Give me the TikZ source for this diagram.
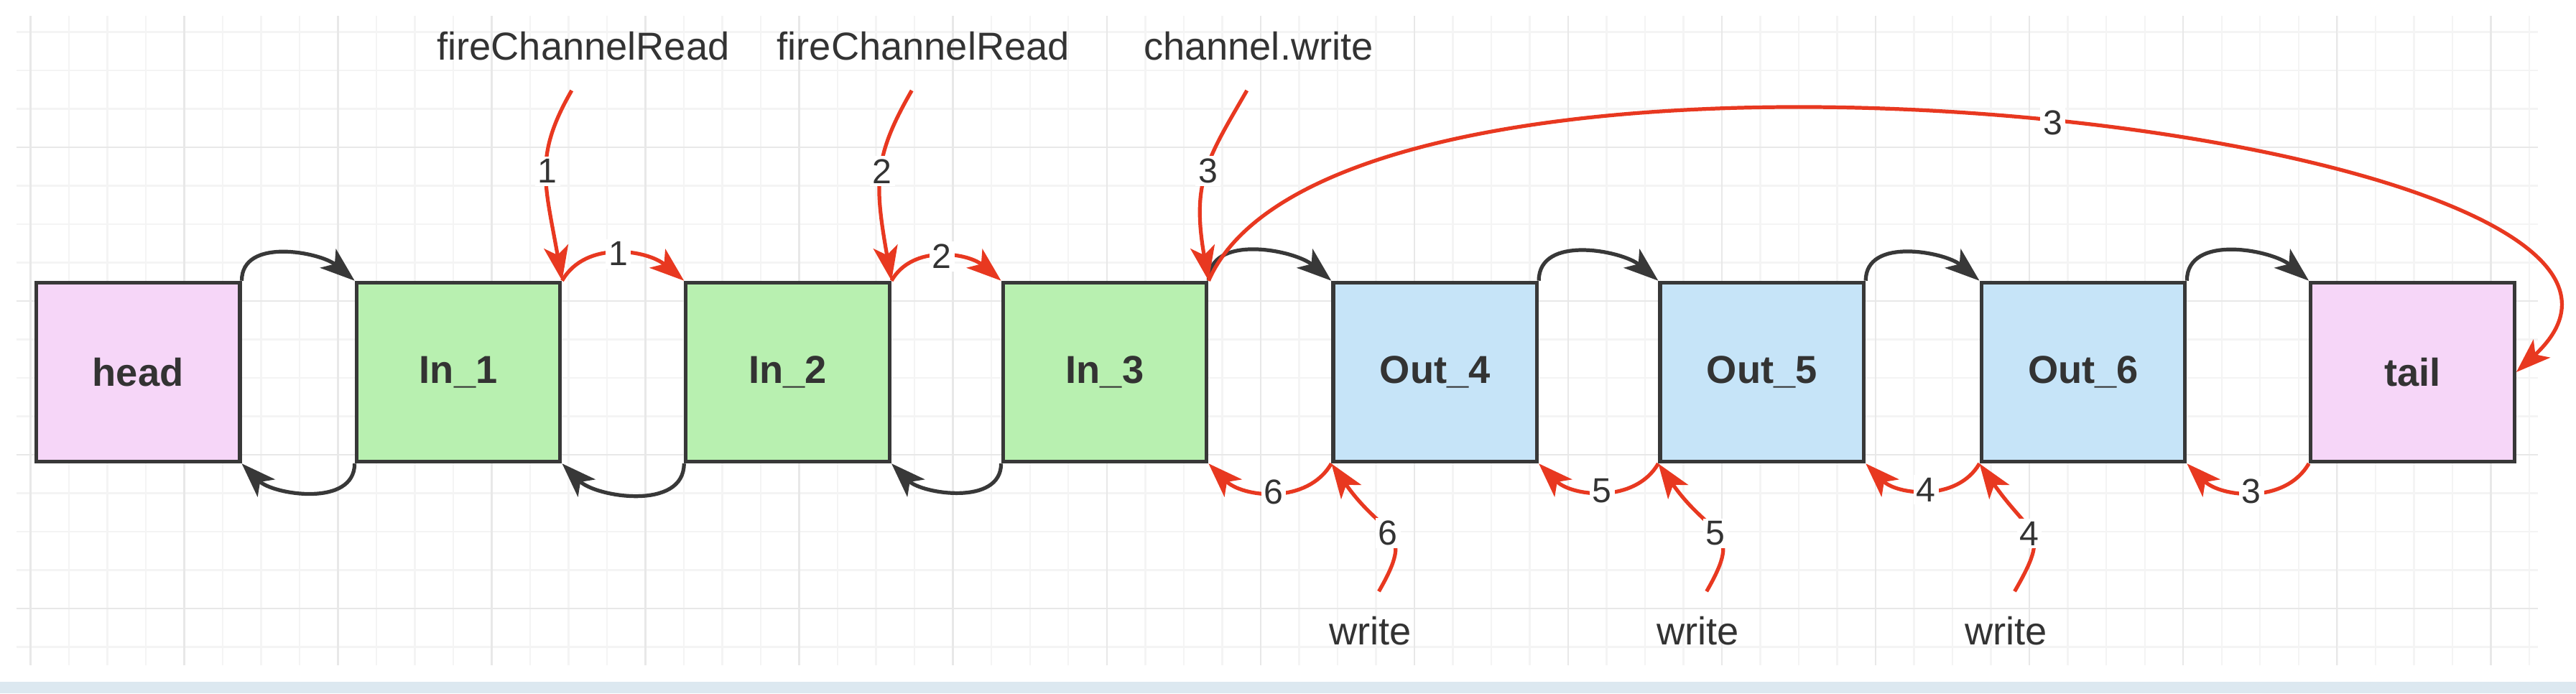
\documentclass[tikz,border=0pt]{standalone}
\usepackage{fontspec}
\setmainfont{Liberation Sans}
\usetikzlibrary{arrows.meta}
\definecolor{headpink}{RGB}{246,214,248}
\definecolor{ingreen}{RGB}{184,240,176}
\definecolor{outblue}{RGB}{198,228,248}
\definecolor{flowred}{RGB}{232,56,32}
\definecolor{linkgray}{RGB}{56,56,56}
\definecolor{labelgray}{RGB}{51,51,51}
\definecolor{framebar}{RGB}{220,232,240}

\begin{document}
\begin{tikzpicture}[font=\fontsize{13.5}{16}\selectfont, text=labelgray]
\useasboundingbox (0,0) rectangle (31.36,8.44);
\fill[white] (0,0) rectangle (31.36,8.44);
\fill[framebar] (0,0) rectangle (31.36,0.14);
\draw[gray!9, line width=0.6pt, step=0.468, shift={(0.37,0.096)}] (-0.17,0.25) grid (30.53,8.15);
\draw[gray!18, line width=0.6pt, step=1.872, shift={(0.37,1.032)}] (-0.17,-0.686) grid (30.53,7.214);
\tikzset{node/.style ={draw=linkgray, line width=1.3pt, minimum width=2.48cm, minimum height=2.18cm, inner sep=0pt, font=\fontsize{13.5}{16}\selectfont\bfseries}}
\node[node, fill=headpink] (head) at (1.68,3.91) {head};
\node[node, fill=ingreen] (in1) at (5.58,3.91) {In\_1};
\node[node, fill=ingreen] (in2) at (9.59,3.91) {In\_2};
\node[node, fill=ingreen] (in3) at (13.45,3.91) {In\_3};
\node[node, fill=outblue] (out4) at (17.47,3.91) {Out\_4};
\node[node, fill=outblue] (out5) at (21.45,3.91) {Out\_5};
\node[node, fill=outblue] (out6) at (25.36,3.91) {Out\_6};
\node[node, fill=headpink] (tail) at (29.37,3.91) {tail};
\node (read1) at (7.10,7.88) {fireChannelRead};
\node (read2) at (11.24,7.88) {fireChannelRead};
\node (chwrite) at (15.32,7.88) {channel.write};
\node (write4) at (16.68,0.76) {write};
\node (write5) at (20.67,0.76) {write};
\node (write6) at (24.42,0.76) {write};
\tikzset{link/.style ={linkgray, line width=1.3pt, -{Stealth[length=12pt, width=8.5pt, inset=3pt]}}}
\draw[link] (head.north east) to[out=90, in=140] (in1.north west);
\draw[link] (in3.north east) to[out=90, in=140] (out4.north west);
\draw[link] (out4.north east) to[out=90, in=140] (out5.north west);
\draw[link] (out5.north east) to[out=90, in=140] (out6.north west);
\draw[link] (out6.north east) to[out=90, in=140] (tail.north west);
\draw[link] (in1.south west) to[out=-90, in=-45] (head.south east);
\draw[link] (in2.south west) to[out=-90, in=-45] (in1.south east);
\draw[link] (in3.south west) to[out=-90, in=-45] (in2.south east);
\tikzset{link/.style ={flowred, line width=1.3pt, -{Stealth[length=12pt, width=8.5pt, inset=3pt]}}}
\tikzset{step label/.style ={fill=white, inner sep=1pt, text=labelgray, font=\fontsize{12}{14}\selectfont}}
\draw[link] (in1.north east) to[out=60, in=140] node[step label]{1} (in2.north west);
\draw[link] (in2.north east) to[out=60, in=140] node[step label]{2} (in3.north west);
\draw[link] (out4.south west) to[out=-120, in=-45] node[step label]{6} (in3.south east);
\draw[link] (out5.south west) to[out=-120, in=-45] node[step label]{5} (out4.south east);
\draw[link] (out6.south west) to[out=-120, in=-45] node[step label]{4} (out5.south east);
\draw[link] (tail.south west) to[out=-120, in=-45] node[step label]{3} (out6.south east);
\draw[link, shorten <=8pt] (read1.south) to[out=-120, in=100, looseness=1.2] node[step label]{1} (in1.north east);
\draw[link, shorten <=8pt] (read2.south) to[out=-120, in=100, looseness=1.2] node[step label]{2} (in2.north east);
\draw[link, shorten <=8pt] (chwrite.south) to[out=-120, in=100, looseness=1.2] node[step label]{3} (in3.north east);
\draw[link, shorten <=6pt] (write4.north) to[out=60, in=-55, looseness=1.6] node[step label]{6} (out4.south west);
\draw[link, shorten <=6pt] (write5.north) to[out=60, in=-55, looseness=1.6] node[step label]{5} (out5.south west);
\draw[link, shorten <=6pt] (write6.north) to[out=60, in=-55, looseness=1.6] node[step label]{4} (out6.south west);
\draw[link] (in3.north east) .. controls (16.4,8.84) and (33.8,6.84) .. (tail.east) node[step label, pos=0.52]{3};
\end{tikzpicture}
\end{document}
